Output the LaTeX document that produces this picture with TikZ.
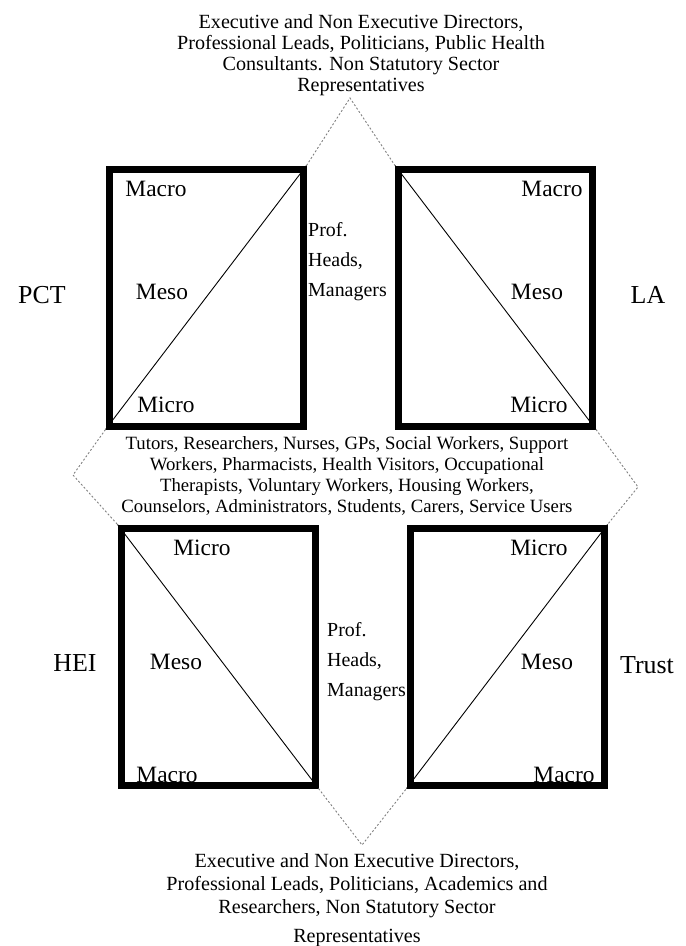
\documentclass[tikz,border=0pt]{standalone}
\usepackage{fontspec}
\setmainfont{Liberation Serif}
\usetikzlibrary{positioning,calc}
\tikzset{
    frame/.style = {draw, rectangle, line width=7bp,
        minimum width=194bp, minimum height=257bp},
    split/.style = {draw, line width=0.9bp},
    link/.style = {draw, gray, line width=0.9bp, dash pattern=on 2bp off 2bp},
    level/.style = {font=\fontsize{23.5}{25}\selectfont, inner sep=0pt},
    org/.style = {font=\fontsize{26}{28}\selectfont, inner sep=0pt},
    group/.style = {font=\fontsize{20.2}{21}\selectfont, align=center, inner sep=0pt},
    staff/.style = {font=\fontsize{20}{30}\selectfont, align=left, inner sep=0pt}
}

\begin{document}
\begin{tikzpicture}[x=1bp, y=-1bp]
        \useasboundingbox (0,0) rectangle (686,946);
        % the four organisations
        \foreach \name/\x/\y in {pct/206/297.5, la/495.5/297.5, hei/218/656.5, trust/507/656.5}{
            \node [frame] (\name) at (\x,\y) {};
        }
        \draw [split] (pct.south west) -- (pct.north east);
        \draw [split] (la.north west) -- (la.south east);
        \draw [split] (hei.north west) -- (hei.south east);
        \draw [split] (trust.south west) -- (trust.north east);
        % levels
        \node [level] (pctmacro) at (156,189) {Macro};
        \node [level] (pctmeso) at (162,292) {Meso};
        \node [level] (pctmicro) at (166,405) {Micro};
        \node [level] (lamacro) at (552,189) {Macro};
        \node [level] (lameso) at (537,292) {Meso};
        \node [level] (lamicro) at (539,405) {Micro};
        \node [level] (heimicro) at (202,548) {Micro};
        \node [level] (heimeso) at (176,662) {Meso};
        \node [level] (heimacro) at (167,775) {Macro};
        \node [level] (trustmicro) at (539,548) {Micro};
        \node [level] (trustmeso) at (547,662) {Meso};
        \node [level] (trustmacro) at (564,775) {Macro};
        % organisation names
        \node [org] (pctname) at (42,295) {PCT};
        \node [org] (laname) at (648,295) {LA};
        \node [org] (heiname) at (75,663) {HEI};
        \node [org] (trustname) at (647,665) {Trust};
        % dotted links
        \coordinate (toptip) at (350,98);
        \coordinate (lefttip) at (73,475);
        \coordinate (righttip) at (638,487);
        \coordinate (bottip) at (362,845);
        \draw [link] (pct.north east) -- (toptip) -- (la.north west);
        \draw [link] (pct.south west) -- (lefttip) -- (hei.north west);
        \draw [link] (la.south east) -- (righttip) -- (trust.north east);
        \draw [link] (hei.south east) -- (bottip) -- (trust.south west);
        % groups of people
        \node [group] (topgroup) at (361,55.5) {Executive and Non Executive Directors,\\
            Professional Leads, Politicians, Public Health\\
            Consultants. Non Statutory Sector\\
            Representatives};
        \node [group, font=\fontsize{18.8}{21}\selectfont] (midgroup) at (347,476) {Tutors, Researchers, Nurses, GPs, Social Workers, Support\\
            Workers, Pharmacists, Health Visitors, Occupational\\
            Therapists, Voluntary Workers, Housing Workers,\\
            Counselors, Administrators, Students, Carers, Service Users};
        \node [group, font=\fontsize{20.2}{23}\selectfont] (botgroup) at (357,900) {Executive and Non Executive Directors,\\
            Professional Leads, Politicians, Academics and\\
            Researchers, Non Statutory Sector\\[6bp]
            Representatives};
        \node [staff, anchor=west] (topstaff) at (308,262) {Prof.\\Heads,\\Managers};
        \node [staff, anchor=west] (botstaff) at (327,662) {Prof.\\Heads,\\Managers};
\end{tikzpicture}
\end{document}
